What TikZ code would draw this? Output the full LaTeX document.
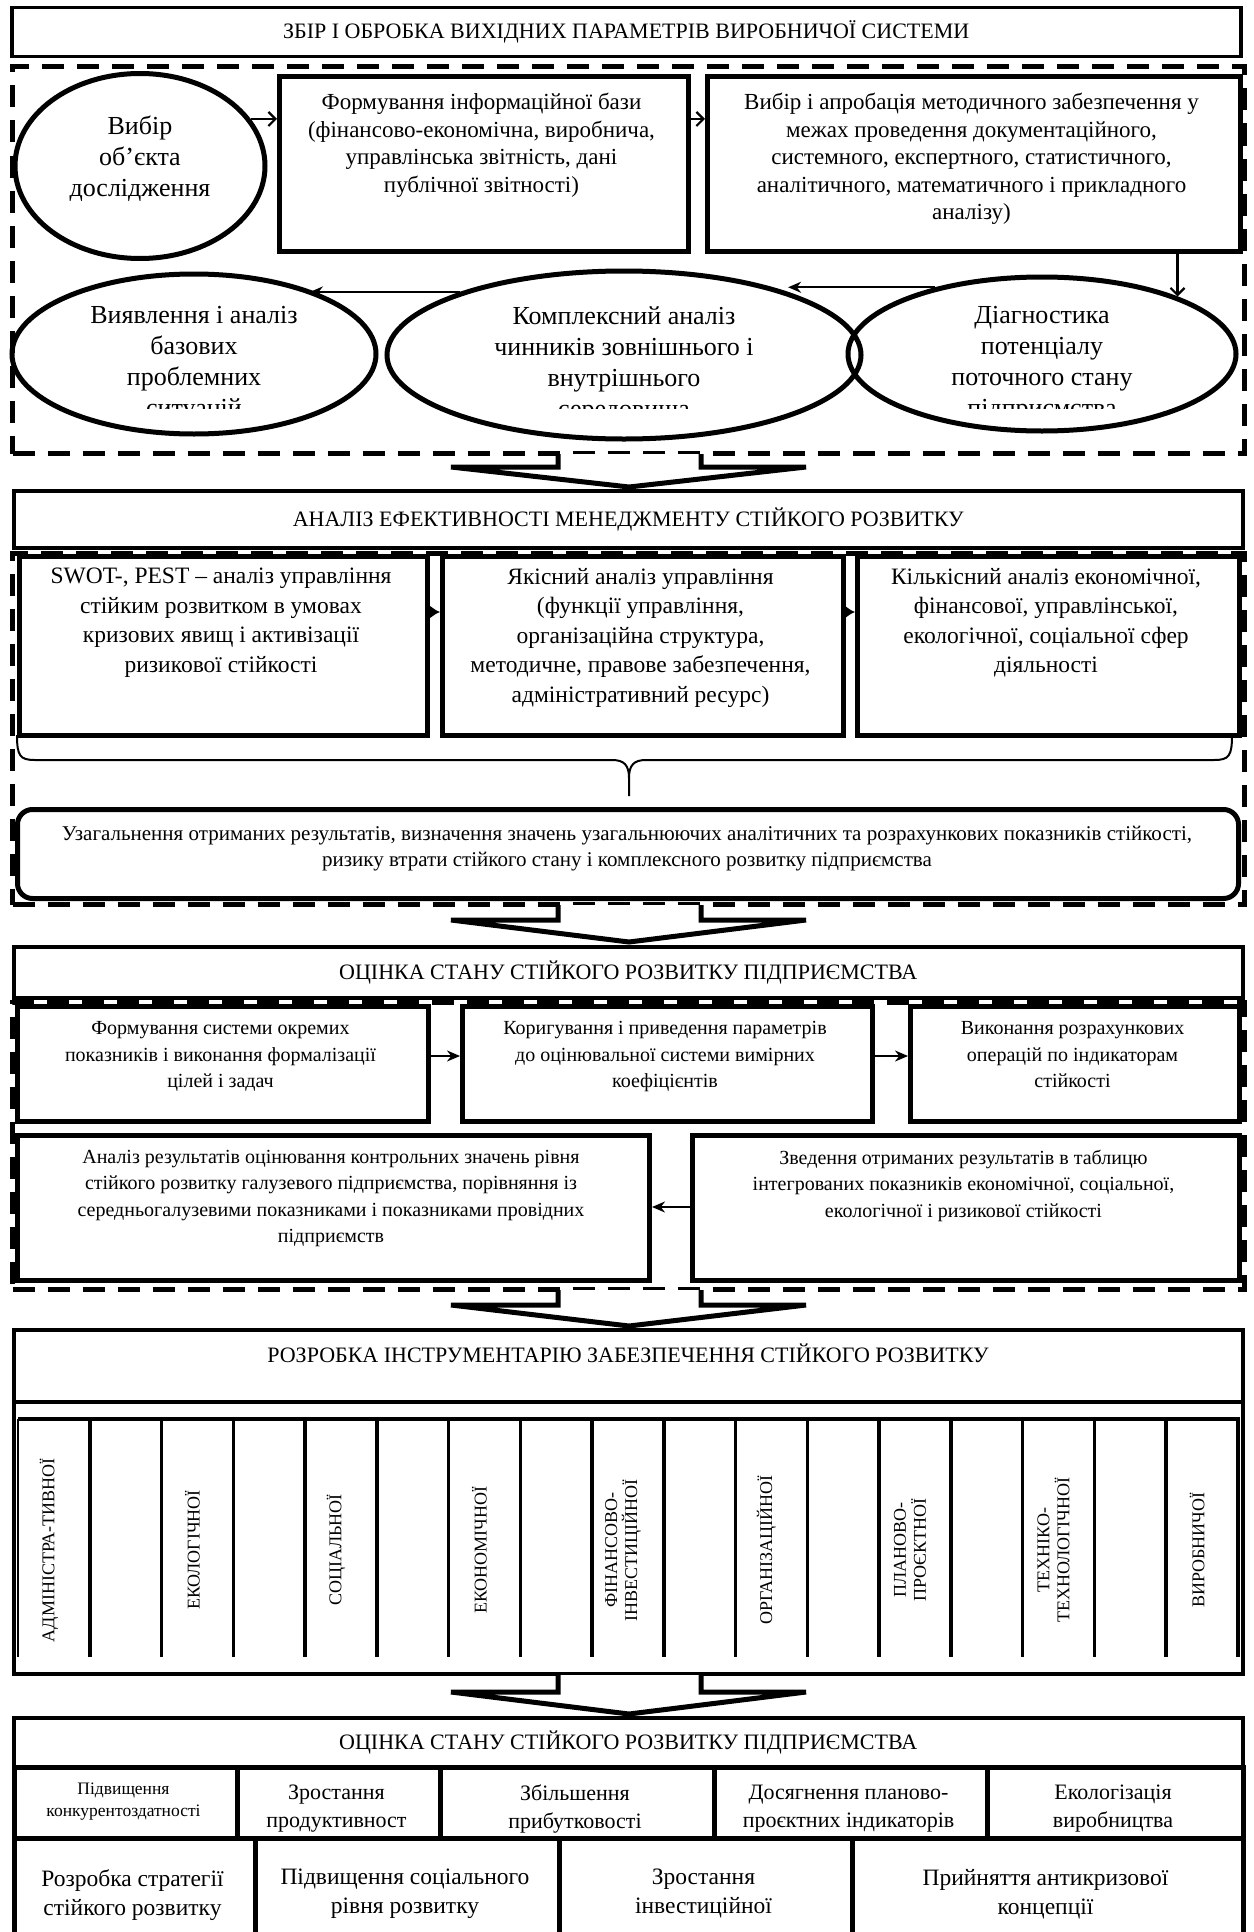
\documentclass[tikz,border=0pt]{standalone}
\usepackage{fontspec}
\setmainfont{Liberation Serif}
\usetikzlibrary{shapes.geometric,arrows.meta,calc}
\newcommand\bigarr[3]{\filldraw[blk] (558,#1) -- (558,#2) -- (451,#2) -- (629,#3) -- (806,#2) -- (701,#2) -- (701,#1);}
\begin{document}
\begin{tikzpicture}[x=1pt,y=-1pt,
  every node/.style={inner sep=0pt},
  hbox/.style={draw,line width=3.5pt,anchor=north west},
  bx/.style={draw,line width=5pt,anchor=north west},
  ell/.style={draw,ellipse,line width=5pt},
  dbox/.style={draw,line width=5pt,dash pattern=on 22pt off 13pt,anchor=north west},
  txt/.style={align=center,anchor=north},
  ft/.style={font=\fontsize{22}{26}\selectfont},
  fa/.style={font=\fontsize{23}{27.5}\selectfont},
  fe/.style={font=\fontsize{26}{31}\selectfont},
  fb/.style={font=\fontsize{23.5}{29.5}\selectfont},
  fr/.style={font=\fontsize{21}{26}\selectfont},
  fc/.style={font=\fontsize{20}{26.3}\selectfont},
  fv/.style={font=\fontsize{18}{20}\selectfont},
  fsa/.style={font=\fontsize{17.5}{22}\selectfont},
  fsb/.style={font=\fontsize{22}{28}\selectfont},
  fsc/.style={font=\fontsize{23.5}{29}\selectfont},
  arr/.style={line width=2pt,-{Stealth[length=13pt,width=11pt]}},
  arro/.style={line width=2.2pt,-{Straight Barb[length=7pt,width=14pt]}},
  arrs/.style={line width=2pt,-{Latex[length=10pt,width=13pt]}},
  blk/.style={line width=5pt,fill=white,line join=miter},
  cell/.style={draw,line width=4.5pt,anchor=north west},
]
\useasboundingbox (0,0) rectangle (1253,1932);

% ===== Section 1 =====
\node[hbox,minimum width=1229pt,minimum height=49pt,ft] (t1) at (10,6) {ЗБІР І ОБРОБКА ВИХІДНИХ ПАРАМЕТРІВ ВИРОБНИЧОЇ СИСТЕМИ};
\node[dbox,minimum width=1232pt,minimum height=387pt] (d1) at (10,64) {};
\node[ell,minimum width=250pt,minimum height=185pt] (e1) at (140,166) {};
\node[txt,fe] at (140,116) {Вибір\\об’єкта\\дослідження};
\node[bx,minimum width=409pt,minimum height=175pt] (b2) at (277,74) {};
\node[txt,fa] at (481.5,93) {Формування інформаційної бази\\(фінансово-економічна, виробнича,\\управлінська звітність, дані\\публічної звітності)};
\node[bx,minimum width=533pt,minimum height=175pt] (b3) at (705,74) {};
\node[txt,fa] at (971.5,93) {Вибір і апробація методичного забезпечення у\\межах проведення документаційного,\\системного, експертного, статистичного,\\аналітичного, математичного і прикладного\\аналізу)};
\node[ell,minimum width=364pt,minimum height=160pt] (e2) at (194,354) {};
\node[ell,minimum width=474pt,minimum height=168pt] (e3) at (624,355) {};
\node[ell,minimum width=388pt,minimum height=154pt] (e4) at (1042,354) {};
\begin{scope}
\clip (0,250) rectangle (1253,408);
\node[txt,fe] at (194,306) {Виявлення і аналіз\\базових\\проблемних\\ситуацій};
\node[txt,fe] at (624,306) {Комплексний аналіз\\чинників зовнішнього і\\внутрішнього\\середовища};
\node[txt,fe] at (1042,306) {Діагностика\\потенціалу\\поточного стану\\підприємства};
\end{scope}
\draw[arro] (e1.23) -- (e1.23 -| b2.west);
\draw[arro] (b2.east |- e1.23) -- (b3.west |- e1.23);
\draw[arro] (b3.south -| e4.23) -- (e4.23);
\draw[arr] (e4.148) -- (e4.148 -| e3.21);
\draw[arr] (e3.159) -- (e3.159 -| e2.29);

\bigarr{454}{467}{487}

% ===== Section 2 =====
\node[hbox,minimum width=1229pt,minimum height=57pt,ft] (t2) at (12,489) {АНАЛІЗ ЕФЕКТИВНОСТІ МЕНЕДЖМЕНТУ СТІЙКОГО РОЗВИТКУ};
\node[dbox,minimum width=1232pt,minimum height=351pt] (d2) at (10,551) {};
\node[bx,minimum width=408pt,minimum height=179pt] (s1) at (17,554) {};
\node[txt,fb] at (221,568) {SWOT-, PEST – аналіз управління\\стійким розвитком в умовах\\кризових явищ і активізації\\ризикової стійкості};
\node[bx,minimum width=401pt,minimum height=179pt] (s2) at (440,554) {};
\node[txt,fb] at (640.5,568) {Якісний аналіз управління\\(функції управління,\\організаційна структура,\\методичне, правове забезпечення,\\адміністративний ресурс)};
\node[bx,minimum width=382pt,minimum height=179pt] (s3) at (855,554) {};
\node[txt,fb] at (1046,568) {Кількісний аналіз економічної,\\фінансової, управлінської,\\екологічної, соціальної сфер\\діяльності};
\coordinate (ya) at (0,612);
\draw[arrs] (s1.east |- ya) -- (s2.west |- ya);
\draw[arrs] (s2.east |- ya) -- (s3.west |- ya);
\coordinate (brl) at (17,735);
\coordinate (brr) at (1232,735);
\coordinate (brt) at (629,796);
\draw[line width=2pt] (brl) .. controls (17,756) and (20,760) .. (35,760) -- (612,760) .. controls (624,760) and (629,765) .. (629,778) -- (brt);
\draw[line width=2pt] (brr) .. controls (1232,756) and (1229,760) .. (1214,760) -- (646,760) .. controls (634,760) and (629,765) .. (629,778);
\node[draw,line width=5pt,rounded corners=15pt,anchor=north west,minimum width=1221pt,minimum height=89pt] (r) at (15,807) {};
\node[txt,fr] at (627,826) {Узагальнення отриманих результатів, визначення значень узагальнюючих аналітичних та розрахункових показників стійкості,\\ризику втрати стійкого стану і комплексного розвитку підприємства};

\bigarr{905}{920}{942}

% ===== Section 3 =====
\node[hbox,minimum width=1229pt,minimum height=51pt,ft] (t3) at (12,945) {ОЦІНКА СТАНУ СТІЙКОГО РОЗВИТКУ ПІДПРИЄМСТВА};
\node[dbox,minimum width=1232pt,minimum height=287pt] (d3) at (10,1000) {};
\node[bx,minimum width=411pt,minimum height=115pt] (c1) at (15,1004) {};
\node[txt,fc] at (220.5,1021.5) {Формування системи окремих\\показників і виконання формалізації\\цілей і задач};
\node[bx,minimum width=410pt,minimum height=115pt] (c2) at (460,1004) {};
\node[txt,fc] at (665,1021.5) {Коригування і приведення параметрів\\до оцінювальної системи вимірних\\коефіцієнтів};
\node[bx,minimum width=329pt,minimum height=115pt] (c3) at (908,1004) {};
\node[txt,fc] at (1072.5,1021.5) {Виконання розрахункових\\операцій по індикаторам\\стійкості};
\node[bx,minimum width=632pt,minimum height=145pt] (c4) at (15,1133) {};
\node[txt,fc] at (331,1150) {Аналіз результатів оцінювання контрольних значень рівня\\стійкого розвитку галузевого підприємства, порівняння із\\середньогалузевими показниками і показниками провідних\\підприємств};
\node[bx,minimum width=547pt,minimum height=145pt] (c5) at (690,1133) {};
\node[txt,fc] at (963.5,1150) {Зведення отриманих результатів в таблицю\\інтегрованих показників економічної, соціальної,\\екологічної і ризикової стійкості};
\coordinate (yb) at (0,1056);
\draw[arr] (c1.east |- yb) -- (c2.west |- yb);
\draw[arr] (c2.east |- yb) -- (c3.west |- yb);
\coordinate (yc) at (0,1207);
\draw[arr] (c5.west |- yc) -- (c4.east |- yc);

\bigarr{1290}{1305}{1326}

% ===== Section 4 =====
\node[hbox,minimum width=1229pt,minimum height=344pt] (t4) at (12,1328) {};
\node[ft] at (628,1353) {РОЗРОБКА ІНСТРУМЕНТАРІЮ ЗАБЕЗПЕЧЕННЯ СТІЙКОГО РОЗВИТКУ};
\draw[line width=3.5pt] (12,1402) -- (1241,1402);
\draw[line width=4pt] (18,1419) -- (1238,1419) -- (1238,1657);
\draw[line width=2pt] (18,1419) -- (18,1657);
\foreach \k in {1,...,16} \draw[line width=3.5pt] ({18+71.76*\k},1419) -- ({18+71.76*\k},1657);
\foreach \k/\t in {0/{АДМІНІСТРА-ТИВНОЇ},2/{ЕКОЛОГІЧНОЇ},4/{СОЦІАЛЬНОЇ},6/{ЕКОНОМІЧНОЇ},8/{ФІНАНСОВО-\\ІНВЕСТИЦІЙНОЇ},10/{ОРГАНІЗАЦІЙНОЇ},12/{ПЛАНОВО-\\ПРОЄКТНОЇ},14/{ТЕХНІКО-\\ТЕХНОЛОГІЧНОЇ},16/{ВИРОБНИЧОЇ}}
  \node[fv,rotate=90,align=center] (v\k) at ({18+71.76*(\k+0.5)-5},1550) {\t};

\bigarr{1675}{1692}{1714}

% ===== Section 5 =====
\node[hbox,minimum width=1229pt,minimum height=49pt,ft] (t5) at (12,1716) {ОЦІНКА СТАНУ СТІЙКОГО РОЗВИТКУ ПІДПРИЄМСТВА};
\node[cell,minimum width=223pt,minimum height=71pt] (p1) at (12,1765) {};
\node[cell,minimum width=203pt,minimum height=71pt] (p2) at (235,1765) {};
\node[cell,minimum width=274pt,minimum height=71pt] (p3) at (438,1765) {};
\node[cell,minimum width=273pt,minimum height=71pt] (p4) at (712,1765) {};
\node[cell,minimum width=256pt,minimum height=71pt] (p5) at (985,1765) {};
\node[txt,fsa] at (123.5,1783) {Підвищення\\конкурентоздатності};
\begin{scope}
\clip (235,1765) rectangle (438,1836);
\node[txt,fsb] at (336.5,1785) {Зростання\\продуктивност\\і};
\end{scope}
\node[txt,fsb] at (575,1785) {Збільшення\\прибутковості};
\node[txt,fsb] at (848.5,1785) {Досягнення планово-\\проєктних індикаторів};
\node[txt,fsb] at (1113,1785) {Екологізація\\виробництва};
\node[cell,minimum width=241pt,minimum height=110pt] (q1) at (12,1836) {};
\node[cell,minimum width=304pt,minimum height=110pt] (q2) at (253,1836) {};
\node[cell,minimum width=293pt,minimum height=110pt] (q3) at (557,1836) {};
\node[cell,minimum width=391pt,minimum height=110pt] (q4) at (850,1836) {};
\node[txt,fsc] at (132.5,1869) {Розробка стратегії\\стійкого розвитку};
\node[txt,fsc] at (405,1869) {Підвищення соціального\\рівня розвитку};
\node[txt,fsc] at (703.5,1869) {Зростання\\інвестиційної};
\node[txt,fsc] at (1045.5,1869) {Прийняття антикризової\\концепції};
\end{tikzpicture}
\end{document}
